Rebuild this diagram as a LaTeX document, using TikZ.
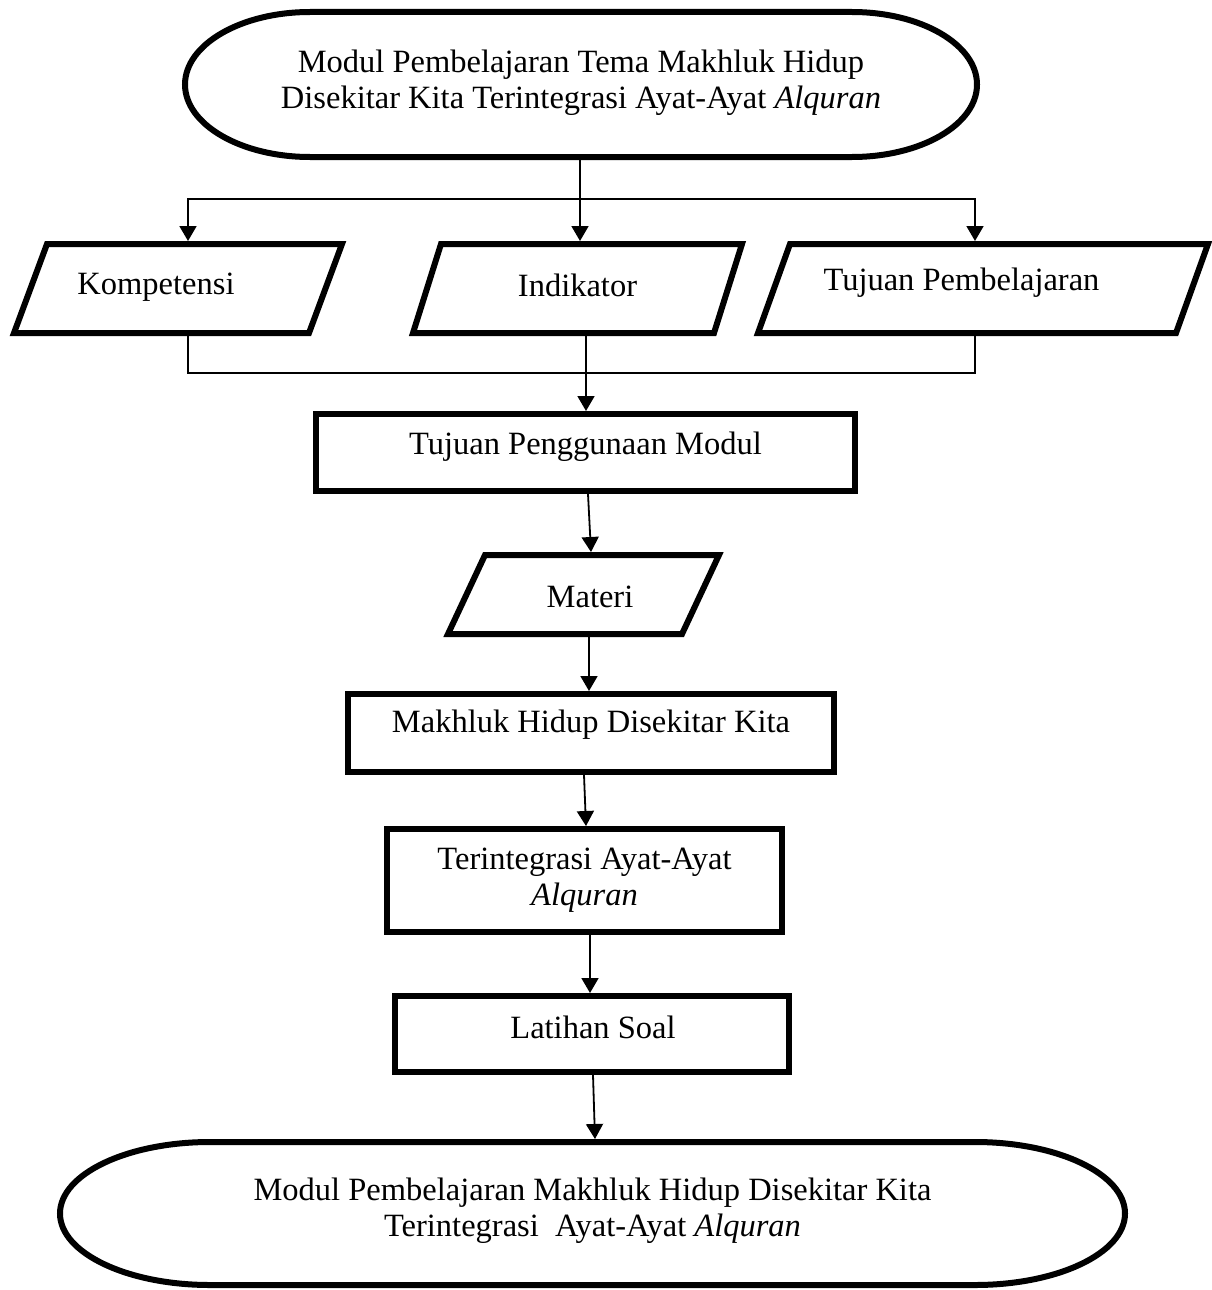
\documentclass[tikz,border=0pt]{standalone}
\usepackage{fontspec}
\setmainfont{Liberation Serif}
\usetikzlibrary{arrows.meta,calc}
\newcommand\tf{\fontsize{32.5}{36}\selectfont}
\newcommand\pgramdraw[2]{\draw[thickline] ([shift={(3+#2,-3)}]#1.north west) -- ([shift={(-3,-3)}]#1.north east) -- ([shift={(-3-#2,3)}]#1.south east) -- ([shift={(3,3)}]#1.south west) -- cycle;}
\newcommand\termdraw[3]{\draw[thickline] ([shift={(3+#2,-3)}]#1.north west) -- ([shift={(-3-#2,-3)}]#1.north east) arc[start angle=90,end angle=-90,x radius=#2pt,y radius=#3pt] -- ([shift={(3+#2,3)}]#1.south west) arc[start angle=270,end angle=90,x radius=#2pt,y radius=#3pt] -- cycle;}
\begin{document}
\begin{tikzpicture}[x=1pt,y=1pt,
  thickline/.style={line width=6pt,line join=miter},
  conn/.style={line width=1.8pt},
  arr/.style={conn,-{Triangle[width=17pt,length=15pt]}},
  txt/.style={font=\tf,align=center,inner sep=0pt},
  pshape/.style={rectangle,inner sep=0pt,outer sep=3pt},
  box/.style={draw,thickline,rectangle,inner sep=0pt},
]
\useasboundingbox[fill=white] (0,0) rectangle (1211,-1290);

% terminals
\node[pshape,minimum width=792pt,minimum height=145pt,
  label={[txt,yshift=1.5pt]center:Modul Pembelajaran Tema Makhluk Hidup\\Disekitar Kita Terintegrasi Ayat-Ayat \textit{Alquran}}] (start) at (581,-84.5) {};
\termdraw{start}{125}{72.5}

\node[pshape,minimum width=1065pt,minimum height=143pt,
  label={[txt,yshift=2.5pt]center:Modul Pembelajaran Makhluk Hidup Disekitar Kita\\Terintegrasi\ \ Ayat-Ayat \textit{Alquran}}] (end) at (592.5,-1213.5) {};
\termdraw{end}{150}{71.5}

% parallelograms
\node[pshape,minimum width=328pt,minimum height=89pt,
  label={[txt,xshift=-22pt,yshift=1.5pt]center:Kompetensi}] (komp) at (178,-288.5) {};
\pgramdraw{komp}{33}
\node[pshape,minimum width=329pt,minimum height=89pt,
  label={[txt,yshift=3.5pt]center:Indikator}] (indi) at (577.5,-288.5) {};
\pgramdraw{indi}{28}
\node[pshape,minimum width=450pt,minimum height=89pt,
  label={[txt,xshift=-21.5pt,yshift=5.5pt]center:Tujuan Pembelajaran}] (tuj) at (983,-288.5) {};
\pgramdraw{tuj}{32}
\node[pshape,minimum width=271pt,minimum height=79pt,
  label={[txt,xshift=6.5pt,yshift=-2.5pt]center:Materi}] (materi) at (583.5,-594.5) {};
\pgramdraw{materi}{37}

% boxes
\node[box,minimum width=539pt,minimum height=77pt,
  label={[txt,yshift=5.5pt]center:Tujuan Penggunaan Modul}] (tpm) at (585.5,-452.5) {};
\node[box,minimum width=486pt,minimum height=78pt,
  label={[txt,yshift=8pt]center:Makhluk Hidup Disekitar Kita}] (mhk) at (591,-733) {};
\node[box,minimum width=395pt,minimum height=103pt,
  label={[txt]center:Terintegrasi Ayat-Ayat\\\textit{Alquran}}] (ter) at (584.5,-880.5) {};
\node[box,minimum width=394pt,minimum height=76pt,
  label={[txt,xshift=1pt,yshift=7pt]center:Latihan Soal}] (lat) at (592,-1034) {};

% connectors
\coordinate (fork) at (580,-199);
\draw[conn] (start.south -| fork) -- (fork);
\draw[arr] (fork) -- (indi.north -| fork);
\draw[arr] (fork) -| ([xshift=10pt]komp.north);
\draw[arr] (fork) -| ([xshift=-8pt]tuj.north);

\coordinate (merge) at (586,-373);
\draw[conn] ([xshift=10pt]komp.south) |- (merge) -| ([xshift=-8pt]tuj.south);
\draw[arr] (indi.south -| merge) -- (tpm.north -| merge);

\draw[arr] ([xshift=2.5pt]tpm.south) -- ([xshift=7.5pt]materi.north);
\draw[arr] ([xshift=5.5pt]materi.south) -- ([xshift=-2pt]mhk.north);
\draw[arr] ([xshift=-7pt]mhk.south) -- ([xshift=1.5pt]ter.north);
\draw[arr] ([xshift=5.5pt]ter.south) -- ([xshift=-2pt]lat.north);
\draw[arr] ([xshift=1pt]lat.south) -- ([xshift=2.5pt]end.north);
\end{tikzpicture}
\end{document}
